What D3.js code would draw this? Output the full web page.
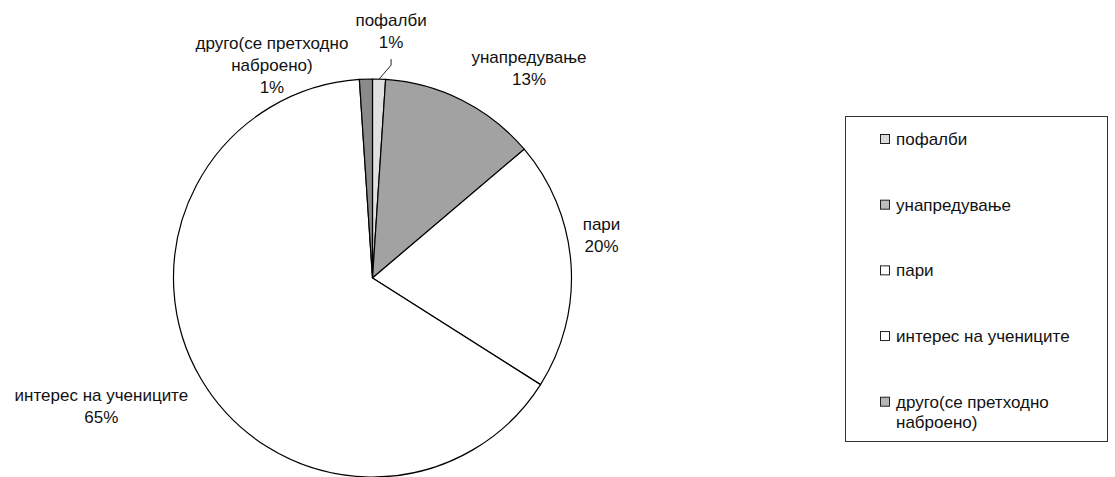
<!DOCTYPE html>
<html>
<head>
<meta charset="utf-8">
<script src="https://cdn.jsdelivr.net/npm/d3@7"></script>
<style>
  html, body { margin: 0; padding: 0; background: #fff; }
  svg { display: block; }
  text { font-family: "Liberation Sans", Arial, sans-serif; fill: #111; }
</style>
</head>
<body>
<svg id="chart" width="1115" height="477"></svg>
<script>
// ---- data ----
const categories = ["пофалби", "унапредување", "пари", "интерес на учениците", "друго(се претходно наброено)"];
const labelLines = [["пофалби"], ["унапредување"], ["пари"], ["интерес на учениците"], ["друго(се претходно", "наброено)"]];
const legendLines = [["пофалби"], ["унапредување"], ["пари"], ["интерес на учениците"], ["друго(се претходно", "наброено)"]];
const values = [1.05, 12.75, 20.2, 64.95, 1.05];
const fills = ["#e0e0e0", "#a2a2a2", "#ffffff", "#ffffff", "#8a8a8a"];
const legendFills = ["#dcdcdc", "#bdbdbd", "#ffffff", "#ffffff", "#b5b5b5"];
// label offsets (px) from each slice's outer mid-arc point: [dx, dy of first baseline]
const labelOffsets = [[12, -53], [67, -37.5], [30.5, -34], [-100, 21], [-94, -30]];
const hasLeader = [true, false, false, false, false];

// ---- layout ----
const W = 1115, H = 477;
const cx = 372.5, cy = 278, R = 199;
const fontSize = 17, lineH = 22;

const svg = d3.select("#chart");

const pie = d3.pie().sort(null).value(d => d)(values);
const arc = d3.arc().innerRadius(0).outerRadius(R);

const g = svg.append("g").attr("transform", `translate(${cx},${cy})`);
g.selectAll("path.slice")
  .data(pie)
  .join("path")
  .attr("class", "slice")
  .attr("d", arc)
  .attr("fill", (d, i) => fills[i])
  .attr("stroke", "#000")
  .attr("stroke-width", 1.2)
  .attr("stroke-linejoin", "round");

// labels
const total = d3.sum(values);
pie.forEach((d, i) => {
  const mid = (d.startAngle + d.endAngle) / 2;
  const ox = R * Math.sin(mid), oy = -R * Math.cos(mid);
  const lx = ox + labelOffsets[i][0];
  const ly = oy + labelOffsets[i][1];
  const lines = labelLines[i].concat([Math.round(values[i] / total * 100) + "%"]);
  const t = g.append("text")
    .attr("text-anchor", "middle")
    .attr("font-size", fontSize);
  lines.forEach((s, k) => {
    t.append("tspan").attr("x", lx).attr("y", ly + k * lineH).text(s);
  });
  if (hasLeader[i]) {
    const top = ly + (lines.length - 1) * lineH + 11;
    g.append("path")
      .attr("d", d3.line()([[lx, top], [lx, top + 6], [ox, oy]]))
      .attr("fill", "none")
      .attr("stroke", "#222")
      .attr("stroke-width", 1);
  }
});

// legend
const lg = svg.append("g");
const box = { x: 845.5, y: 116.5, w: 262, h: 325 };
lg.append("rect")
  .attr("x", box.x).attr("y", box.y)
  .attr("width", box.w).attr("height", box.h)
  .attr("fill", "#fff").attr("stroke", "#333").attr("stroke-width", 1);

const ly = d3.scalePoint().domain(categories).range([139, 401.7]);
categories.forEach((c, i) => {
  const y = ly(c);
  lg.append("rect")
    .attr("x", 880.5).attr("y", y - 4.5)
    .attr("width", 9).attr("height", 9)
    .attr("fill", legendFills[i]).attr("stroke", "#222").attr("stroke-width", 1);
  const t = lg.append("text").attr("font-size", fontSize);
  legendLines[i].forEach((s, k) => {
    t.append("tspan").attr("x", 896).attr("y", y + 6 + k * 20).text(s);
  });
});
</script>
</body>
</html>
